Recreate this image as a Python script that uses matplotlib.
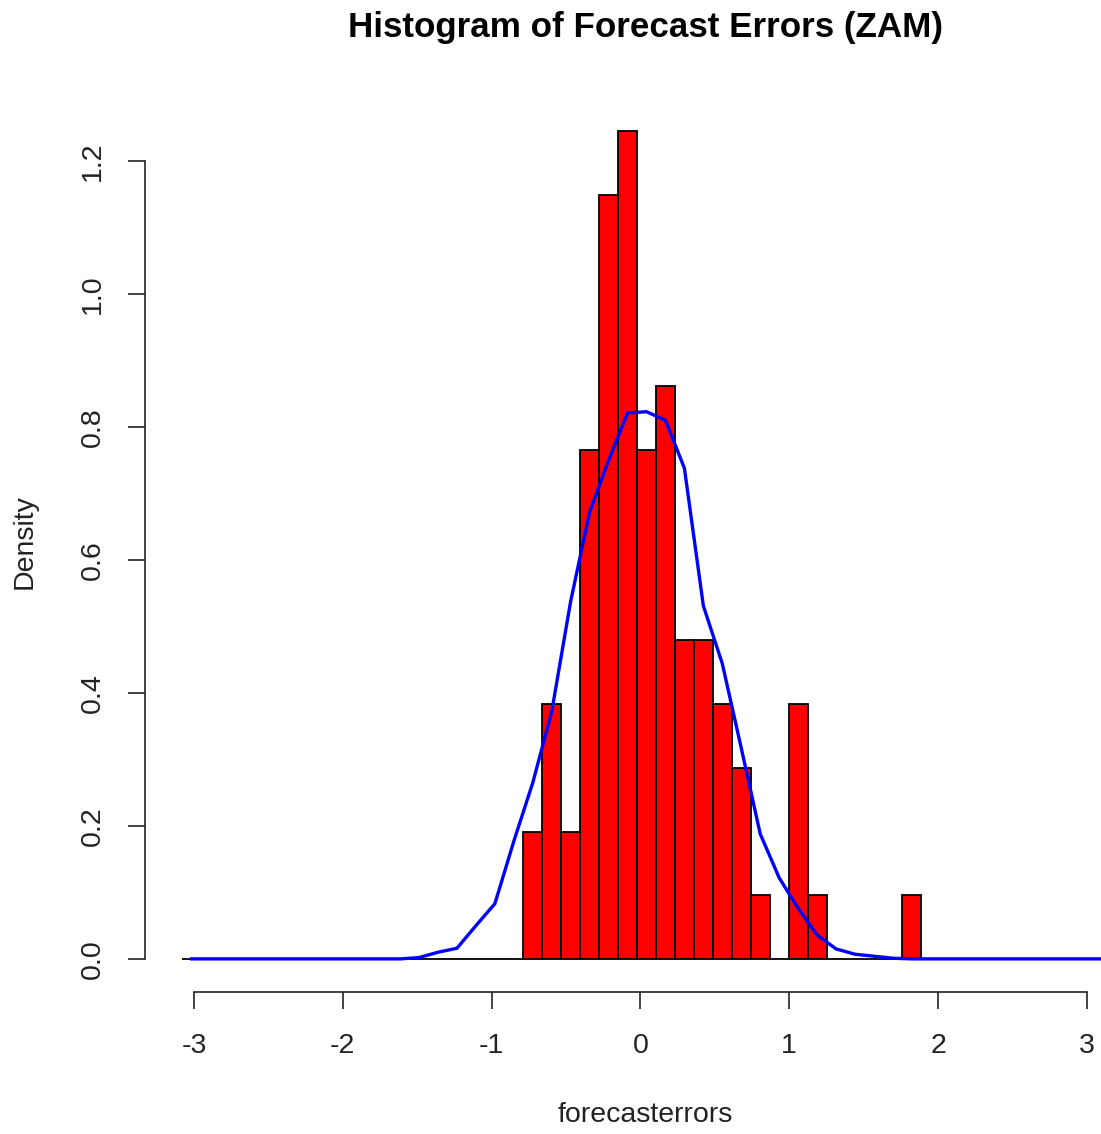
import numpy as np
import matplotlib
matplotlib.use("Agg")
import matplotlib.pyplot as plt

plt.rcParams['font.family'] = ['Liberation Sans', 'DejaVu Sans']

# ---- data ----
title = "Histogram of Forecast Errors (ZAM)"
x_label = "forecasterrors"
y_label = "Density"

bin_start = -3.080      # first histogram break
bin_width = 0.12738     # break spacing

# histogram density of forecast errors, one value per bin (49 bins)
hist_density = [0, 0, 0, 0, 0, 0, 0, 0, 0, 0,
                0, 0, 0, 0, 0, 0, 0, 0,
                0.191, 0.383, 0.191, 0.766, 1.149, 1.245, 0.766, 0.862,
                0.479, 0.479, 0.383, 0.287, 0.096, 0.0, 0.383, 0.096,
                0, 0, 0, 0, 0.096,
                0, 0, 0, 0, 0, 0, 0, 0, 0, 0]

# density of the simulated normal data at bin mids (blue curve)
normal_density = [0, 0, 0, 0, 0, 0, 0, 0, 0, 0, 0, 0,
                  0.002, 0.010, 0.016, 0.050, 0.083, 0.177, 0.265, 0.372,
                  0.538, 0.672, 0.750, 0.821, 0.823, 0.810, 0.738, 0.531,
                  0.444, 0.317, 0.188, 0.122, 0.076, 0.036, 0.015, 0.007,
                  0.004, 0.001,
                  0, 0, 0, 0, 0, 0, 0, 0, 0, 0, 0]

x_ticks = [-3, -2, -1, 0, 1, 2, 3]
x_tick_labels = ["-3", "-2", "-1", "0", "1", "2", "3"]
y_ticks = [0.0, 0.2, 0.4, 0.6, 0.8, 1.0, 1.2]
y_tick_labels = ["0.0", "0.2", "0.4", "0.6", "0.8", "1.0", "1.2"]

# ---- figure ----
W, H = 1101, 1134
fig = plt.figure(figsize=(W / 100, H / 100), dpi=100)
L, R, T, B = 145, 1148, 98, 992   # plot region in pixels (extends past right edge, as in the crop)
ax = fig.add_axes([L / W, 1 - B / H, (R - L) / W, (B - T) / H])

edges = bin_start + bin_width * np.arange(len(hist_density) + 1)
mids = (edges[:-1] + edges[1:]) / 2

ax.bar(edges[:-1], hist_density, width=bin_width, align='edge',
       color='#ff0000', edgecolor='black', linewidth=1.3, zorder=2)
ax.plot(mids, normal_density, color='#0000ff', lw=2.4, zorder=3,
        solid_joinstyle='miter')

span = edges[-1] - edges[0]
ax.set_xlim(edges[0] - 0.04 * span, edges[-1] + 0.04 * span)
ymax = max(hist_density)
ax.set_ylim(-0.04 * ymax, 1.04 * ymax)

for s in ['top', 'right']:
    ax.spines[s].set_visible(False)
ax.spines['bottom'].set_bounds(x_ticks[0], x_ticks[-1])
ax.spines['left'].set_bounds(y_ticks[0], y_ticks[-1])
for s in ['bottom', 'left']:
    ax.spines[s].set_linewidth(1.2)
    ax.spines[s].set_color('#222222')

ax.set_xticks(x_ticks, x_tick_labels)
ax.set_yticks(y_ticks, y_tick_labels, rotation=90, va='center')
ax.tick_params(axis='both', length=12.5, width=1.2, color='#222222',
               labelsize=20.5, labelcolor='#222222')
ax.tick_params(axis='x', pad=17)
ax.tick_params(axis='y', pad=16)
ax.set_facecolor('white')

fig.text(645 / W, 1 - 27 / H, title, ha='center', va='center',
         fontsize=25.2, fontweight='bold', color='black')
fig.text(645 / W, 1 - 1115 / H, x_label, ha='center', va='center',
         fontsize=20.5, color='#222222')
fig.text(25 / W, 1 - 542 / H, y_label, ha='center', va='center',
         rotation=90, fontsize=20.5, color='#222222')

fig.savefig("out.png", dpi=100, facecolor='white')
